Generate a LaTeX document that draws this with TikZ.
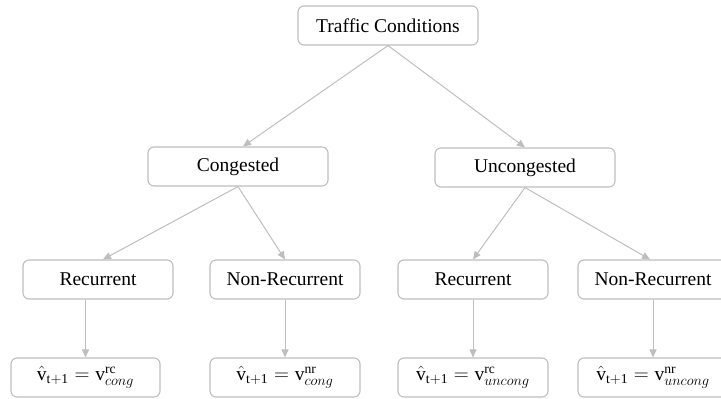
\documentclass[tikz,border=0pt]{standalone}
\usepackage{fontspec}
\setmainfont{Liberation Serif}
\usepackage{amsmath}
\usetikzlibrary{arrows.meta}
\definecolor{linegray}{RGB}{190,190,190}

\begin{document}
\begin{tikzpicture}[x=1pt, y=-1pt,
    box/.style={draw=linegray, line width=1.1pt, rounded corners=6pt, fill=white,
        minimum height=39pt, inner sep=0pt, font=\fontsize{19.5}{22}\selectfont},
    link/.style={draw=linegray, line width=1pt, -{Triangle[length=8pt, width=7pt]}}]
\useasboundingbox (0,0) rectangle (721,399);
\node[box, minimum width=180pt] (traffic) at (388,25.5) {Traffic Conditions};
\node[box, minimum width=180pt] (cong) at (238,166.5) {Congested};
\node[box, minimum width=180pt] (uncong) at (525,167.5) {Uncongested};
\node[box, minimum width=150pt] (crec) at (98,279.5) {Recurrent};
\node[box, minimum width=150pt] (cnon) at (285,279.5) {Non-Recurrent};
\node[box, minimum width=150pt] (urec) at (473,279.5) {Recurrent};
\node[box, minimum width=150pt] (unon) at (653,279.5) {Non-Recurrent};
% predicted speed for each case
\node[box, minimum width=149pt] (crecv) at (85.5,377.5) {$\hat{\mathrm{v}}_{\mathrm{t+1}} = \mathrm{v}^{\mathrm{rc}}_{cong}$};
\node[box, minimum width=150pt] (cnonv) at (285,377.5) {$\hat{\mathrm{v}}_{\mathrm{t+1}} = \mathrm{v}^{\mathrm{nr}}_{cong}$};
\node[box, minimum width=150pt] (urecv) at (473,377.5) {$\hat{\mathrm{v}}_{\mathrm{t+1}} = \mathrm{v}^{\mathrm{rc}}_{uncong}$};
\node[box, minimum width=150pt] (unonv) at (653,377.5) {$\hat{\mathrm{v}}_{\mathrm{t+1}} = \mathrm{v}^{\mathrm{nr}}_{uncong}$};
\draw[link] (traffic.south) -- ([xshift=5pt]cong.north);
\draw[link] (traffic.south) -- (uncong.north);
\draw[link] (cong.south) -- ([xshift=5pt]crec.north);
\draw[link] (cong.south) -- (cnon.north);
\draw[link] (uncong.south) -- (urec.north);
\draw[link] (uncong.south) -- ([xshift=-3pt]unon.north);
\draw[link] ([xshift=-12.5pt]crec.south) -- (crecv.north);
\draw[link] (cnon.south) -- (cnonv.north);
\draw[link] (urec.south) -- (urecv.north);
\draw[link] (unon.south) -- (unonv.north);
\end{tikzpicture}
\end{document}
